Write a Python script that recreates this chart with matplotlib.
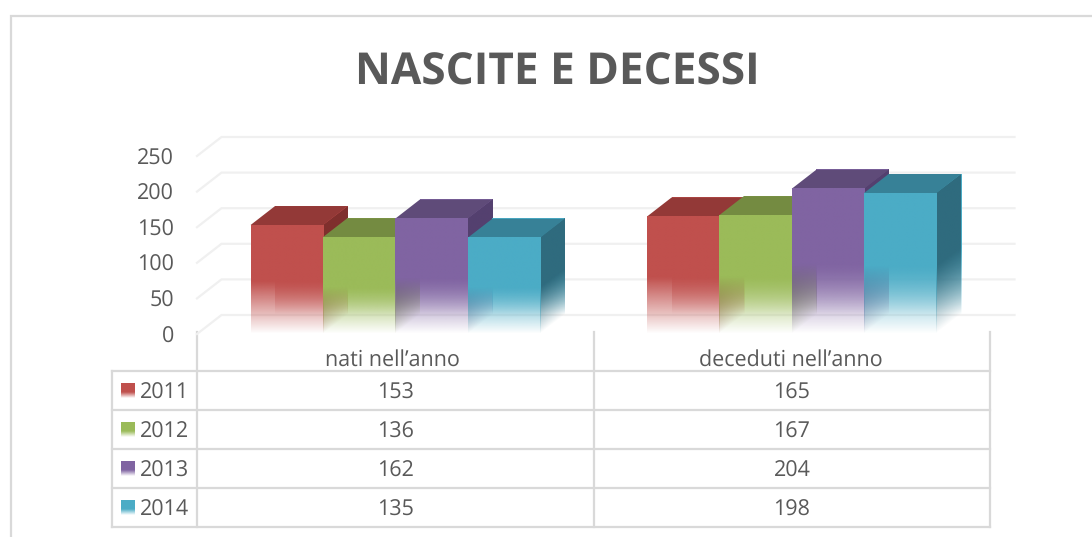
import numpy as np
import matplotlib
matplotlib.use('Agg')
import matplotlib.pyplot as plt
from matplotlib.colors import to_rgb
from matplotlib.patches import Polygon
from matplotlib.transforms import Affine2D

W, H = 1092, 537

# Data.
title = 'NASCITE E DECESSI'
categories = ['nati nell\u2019anno', 'deceduti nell\u2019anno']
years = ['2011', '2012', '2013', '2014']
values_2011 = [153, 165]
values_2012 = [136, 167]
values_2013 = [162, 204]
values_2014 = [135, 198]
y_ticks = [0, 50, 100, 150, 200, 250]

series = [values_2011, values_2012, values_2013, values_2014]
front_colors = ['#C0504D', '#9BBB59', '#8064A2', '#4BACC6']
top_colors = ['#933937', '#748B41', '#5F4B79', '#378197']
side_colors = ['#7F2F2D', '#65793A', '#54406F', '#2F6B7E']

GRID = '#F0F0F0'
LINE = '#D9D9D9'
TEXT = '#595959'
BAR_W = 0.1825
DEPTH_X = 24.5 / 396.5
DEPTH_Y = 26.7
FADE_START = 0.48
FONT = 15.5

plt.rcParams['font.family'] = ['Open Sans', 'DejaVu Sans']
plt.rcParams['text.hinting'] = 'none'

fig = plt.figure(figsize=(W / 100, H / 100), dpi=100, facecolor='white')

# Layer in pixels for the frame and the table lines.
page = fig.add_axes([0, 0, 1, 1])
page.set_xlim(0, W)
page.set_ylim(H, 0)
page.axis('off')

ax = fig.add_axes([197 / W, (H - 334) / H, 793 / W, 178 / H])
ax.patch.set_alpha(0)


def fade_image(color, solid=FADE_START):
    # Column of RGBA going from transparent at the base to solid colour.
    rows = np.linspace(0, 1, 100)
    img = np.zeros((100, 1, 4))
    img[:, 0, :3] = to_rgb(color)
    img[:, 0, 3] = np.minimum(rows / solid, 1)
    return img


def fade_face(x0, x1, height, shift0, shift1, color):
    # Unit square image mapped on a (maybe skewed) bar face.
    matrix = [[x1 - x0, 0, x0], [shift1 - shift0, height, shift0], [0, 0, 1]]
    ax.imshow(fade_image(color), extent=(0, 1, 0, 1), origin='lower', aspect='auto',
              interpolation='bilinear', clip_on=False, zorder=2,
              transform=Affine2D(np.array(matrix, dtype=float)) + ax.transData)


# 3D gridlines behind the bars.
for tick in y_ticks:
    ax.plot([0, DEPTH_X, 2 + DEPTH_X], [tick, tick + DEPTH_Y, tick + DEPTH_Y],
            color=GRID, lw=1.6, clip_on=False, zorder=0)

for c in range(len(categories)):
    left = c + 0.5 - 2 * BAR_W
    for s, vals in enumerate(series):
        x = left + s * BAR_W
        v = vals[c]
        fade_face(x + DEPTH_X, x + BAR_W + DEPTH_X, v, DEPTH_Y, DEPTH_Y, front_colors[s])
        fade_face(x + BAR_W, x + BAR_W + DEPTH_X, v, 0, DEPTH_Y, side_colors[s])
        ax.add_patch(Polygon([(x, v), (x + BAR_W, v), (x + BAR_W + DEPTH_X, v + DEPTH_Y),
                              (x + DEPTH_X, v + DEPTH_Y)], facecolor=top_colors[s],
                             edgecolor='none', clip_on=False, zorder=2))
        fade_face(x, x + BAR_W, v, 0, 0, front_colors[s])

ax.set_xlim(0, 2)
ax.set_ylim(0, 250)
ax.axis('off')

for tick in y_ticks:
    ax.text(-23 / 396.5, tick, str(tick), ha='right', va='center_baseline', fontsize=FONT,
            color=TEXT, clip_on=False)

# Outer frame of the chart.
page.plot([10.5, 10.5, W], [H, 15.5, 15.5], color=LINE, lw=1.6, solid_joinstyle='miter')
page.text(557, 68, title, ha='center', va='center_baseline', fontsize=31.8, fontweight='bold', color=TEXT)

# Data table.
row_lines = [371, 410, 449, 488, 527]
for y in row_lines:
    page.plot([112, 990], [y, y], color=LINE, lw=1.6)
page.plot([112, 112], [371, 527], color=LINE, lw=1.6)
page.plot([197, 197], [332, 527], color=LINE, lw=1.6)
page.plot([594, 594], [332, 527], color=LINE, lw=1.6)
page.plot([990, 990], [332, 527], color=LINE, lw=1.6)

name_centers = [392.5, 791]
value_centers = [395.5, 792]
for name, cx in zip(categories, name_centers):
    page.text(cx, 357, name, ha='center', va='center_baseline', fontsize=FONT, color=TEXT)

for r, (year, vals) in enumerate(zip(years, series)):
    y_mid = (row_lines[r] + row_lines[r + 1]) / 2
    page.imshow(fade_image(front_colors[r], solid=0.4), extent=(121, 134.5, y_mid + 8, y_mid - 7),
                origin='lower', aspect='auto', interpolation='bilinear')
    page.text(140, y_mid, year, ha='left', va='center_baseline', fontsize=FONT, color=TEXT)
    for v, cx in zip(vals, value_centers):
        page.text(cx, y_mid, str(v), ha='center', va='center_baseline', fontsize=FONT, color=TEXT)

page.set_xlim(0, W)
page.set_ylim(H, 0)

fig.savefig('out.png', dpi=100, facecolor='white')
